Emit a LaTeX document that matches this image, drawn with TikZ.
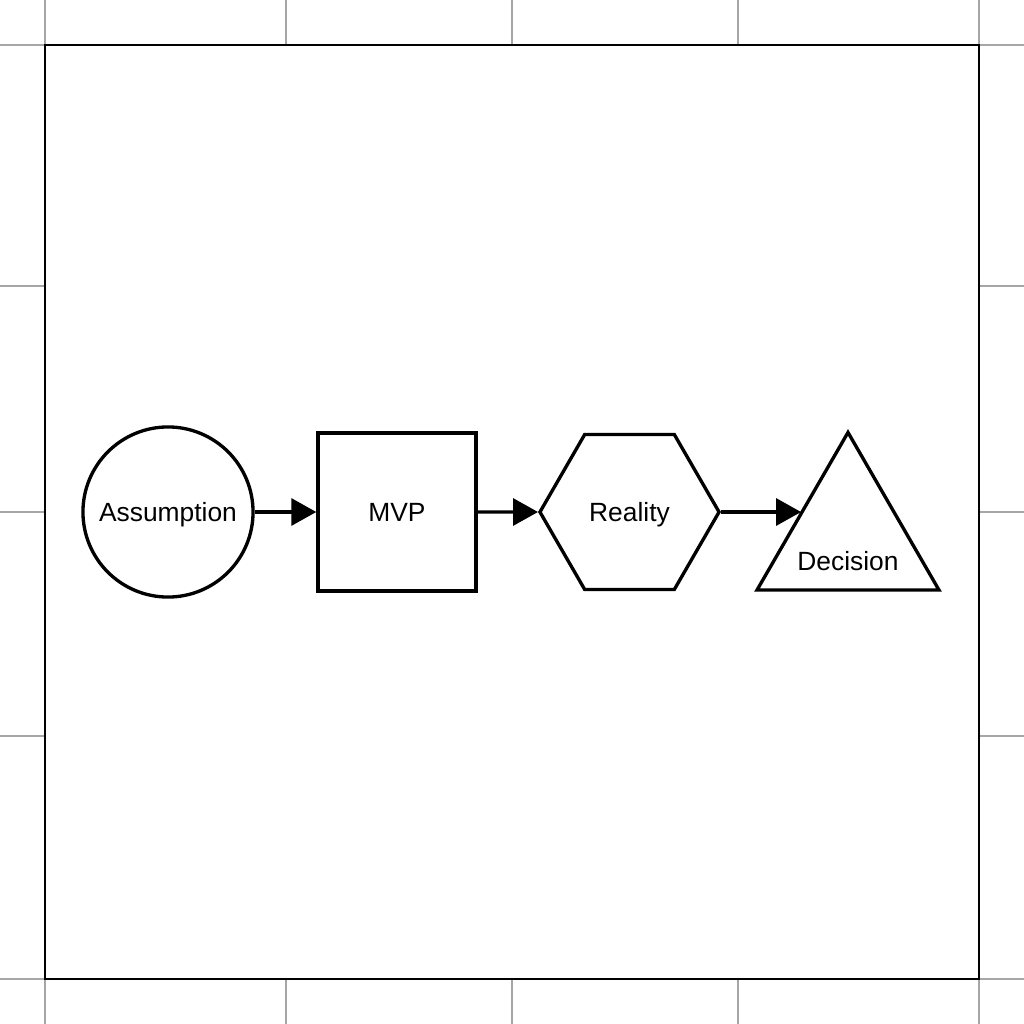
\documentclass[tikz,border=0pt]{standalone}
\usepackage{fontspec}
\setmainfont{Liberation Sans}
\usetikzlibrary{arrows.meta,shapes.geometric}

\tikzset{
  shapebox/.style={draw,line width=0.95pt,fill=white,inner sep=0pt,text depth=0pt,
    font=\fontsize{7.5}{9}\selectfont},
  flow/.style={line width=0.95pt,-{Triangle[length=0.25cm,width=0.27cm]}},
  gridline/.style={gray!70,line width=0.3pt}
}

\begin{document}
\begin{tikzpicture}[x=0.01cm,y=-0.01cm]
  \useasboundingbox (0,0) rectangle (1024,1024);

  % background grid
  \foreach \gx in {45,286,512,738,979}
    \draw[gridline] (\gx,0) -- (\gx,1024);
  \foreach \gy in {45,286,512,736,979}
    \draw[gridline] (0,\gy) -- (1024,\gy);

  % frame
  \draw[line width=0.65pt,fill=white] (45,45) rectangle (979,979);

  % stages
  \node[shapebox,circle,minimum size=1.7cm] (assumption) at (168,512) {Assumption};
  \node[shapebox,rectangle,minimum size=1.58cm] (mvp) at (397,512) {MVP};
  \node[shapebox,regular polygon,regular polygon sides=6,minimum size=1.79cm]
    (reality) at (629.5,512) {Reality};
  \node[shapebox,regular polygon,regular polygon sides=3,minimum size=2.1cm]
    (decision) at (848,537.5) {};
  \node[font=\fontsize{7.5}{9}\selectfont,text depth=0pt] (decisiontext) at (848,561) {Decision};

  % connectors
  \draw[flow] (assumption.east) -- (mvp.west);
  \draw[flow] (mvp.east) -- (reality.west);
  \draw[flow] (reality.east) -- (reality.east -| decision.side 1);
\end{tikzpicture}
\end{document}
